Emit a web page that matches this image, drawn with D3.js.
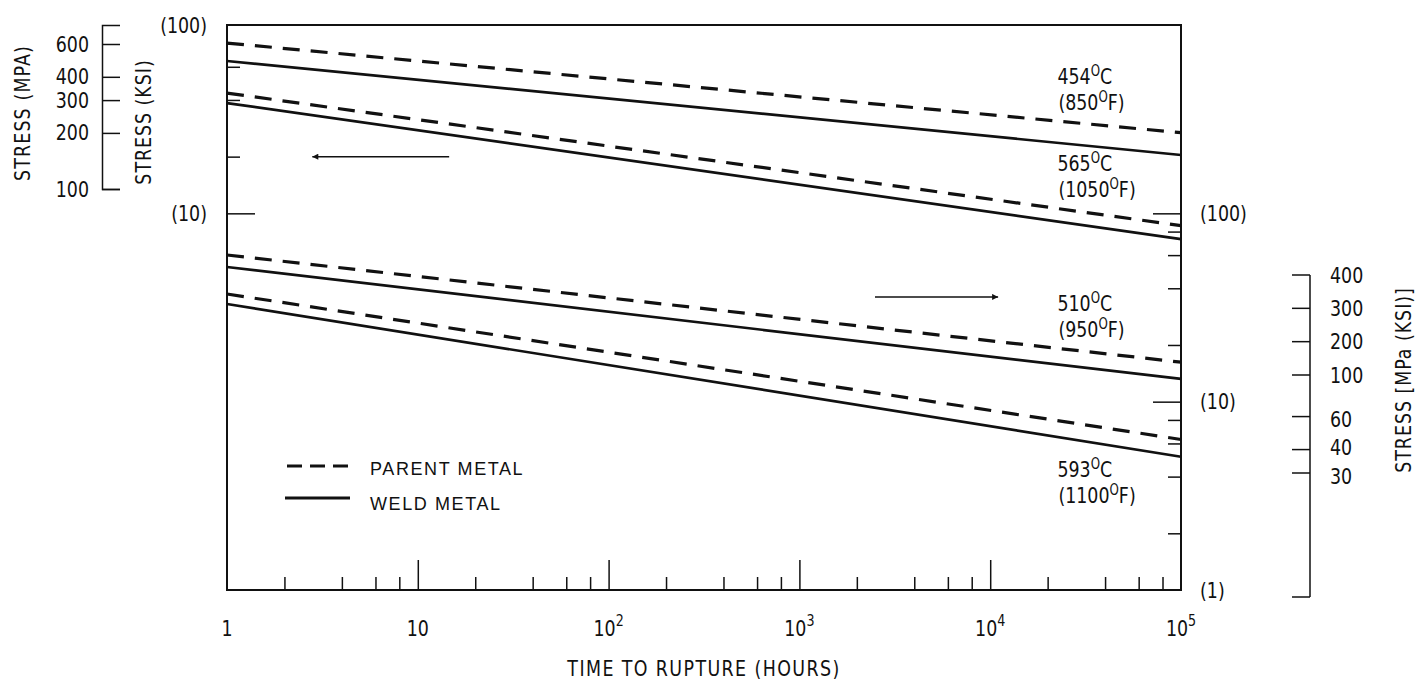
<!DOCTYPE html>
<html lang="en">
<head>
<meta charset="UTF-8">
<title>Time to rupture</title>
<script src="https://d3js.org/d3.v7.min.js"></script>
<style>
  body { margin: 0; background: #fff; }
  text { font-family: "Liberation Sans Narrow", "DejaVu Sans Condensed", sans-serif; fill: #111; font-size: 22px; }
  text.wide { font-family: "Liberation Sans", Arial, sans-serif; font-size: 18px; letter-spacing: 1.6px; }
</style>
</head>
<body>
<svg id="chart" width="1416" height="690"></svg>
<script>
    // curve data: stress (ksi) at 1 h and at 1e5 h
    const hours = [1, 1e5];
    const tempC = ["454", "565", "510", "593"];
    const tempF = ["850", "1050", "950", "1100"];
    const side = ["left", "left", "right", "right"];   // which ksi scale the curve is read on
    const parentStart = [80.2, 43.5, 60.1, 37.3];
    const parentEnd = [26.8, 8.6, 16.2, 6.3];
    const weldStart = [64.4, 38.5, 51.9, 33.0];
    const weldEnd = [20.4, 7.3, 13.2, 5.1];

    // axis ticks
    const xMajor = [10, 100, 1000, 10000];
    const xLabels = [[1, "1", ""], [10, "10", ""], [100, "10", "2"], [1000, "10", "3"], [10000, "10", "4"], [100000, "10", "5"]];
    const ksiMinor = [2, 4, 6, 8, 20, 40, 60, 80];
    const ksiLeftMajor = [10];
    const ksiRightMajor = [10, 100];
    const ksiLeftLabels = [100, 10];
    const ksiRightLabels = [100, 10, 1];
    const mpaLeftTicks = [100, 200, 300, 400, 600];
    const mpaRightTicks = [400, 300, 200, 100, 60, 40, 30];

    const svg = d3.select('#chart');
    const pLeft = 227, pRight = 1181, pTop = 25, pBottom = 590;

    const x = d3.scaleLog().domain([1, 1e5]).range([pLeft, pRight]);
    const yR = d3.scaleLog().domain([1, 1000]).range([pBottom, pTop]);
    const yL = d3.scaleLog().domain([0.1, 100]).range([pBottom, pTop]);
    const yFor = (s) => s === "left" ? yL : yR;

    // frame
    svg.append('rect')
        .attr('x', pLeft).attr('y', pTop)
        .attr('width', pRight - pLeft).attr('height', pBottom - pTop)
        .attr('fill', 'none').attr('stroke', '#111').attr('stroke-width', 2);

    function ticks(g, w) {
        g.select('.domain').remove();
        g.selectAll('line').attr('stroke', '#111').attr('stroke-width', w);
        g.selectAll('text').remove();
    }

    // x ticks (pointing up, inside)
    const xMinor = [1, 10, 100, 1000, 10000].flatMap(d => [2, 4, 6, 8].map(m => d * m));
    svg.append('g').attr('transform', `translate(0,${pBottom})`)
        .call(d3.axisTop(x).tickValues(xMinor).tickSize(13)).call(ticks, 1.5);
    svg.append('g').attr('transform', `translate(0,${pBottom})`)
        .call(d3.axisTop(x).tickValues(xMajor).tickSize(30)).call(ticks, 1.5);

    const xl = svg.append('g').selectAll('text').data(xLabels).join('text')
        .attr('x', d => x(d[0])).attr('y', 636)
        .attr('text-anchor', 'middle');
    xl.append('tspan').text(d => d[1]);
    xl.append('tspan').attr('dy', -10).attr('font-size', 16).text(d => d[2]);

    svg.append('text').attr('x', 704).attr('y', 676)
        .attr('text-anchor', 'middle').attr('letter-spacing', 1.6)
        .text('TIME TO RUPTURE (HOURS)');

    // left ksi ticks
    svg.append('g').attr('transform', `translate(${pLeft},0)`)
        .call(d3.axisRight(yL).tickValues(ksiMinor.filter(v => v > 10)).tickSize(13)).call(ticks, 1.5);
    svg.append('g').attr('transform', `translate(${pLeft},0)`)
        .call(d3.axisRight(yL).tickValues(ksiLeftMajor).tickSize(28)).call(ticks, 1.5);
    svg.append('g').selectAll('text').data(ksiLeftLabels).join('text')
        .attr('x', 207).attr('y', d => yL(d)).attr('dy', '0.35em')
        .attr('text-anchor', 'end').text(d => `(${d})`);

    // right ksi ticks
    svg.append('g').attr('transform', `translate(${pRight},0)`)
        .call(d3.axisLeft(yR).tickValues(ksiMinor).tickSize(13)).call(ticks, 1.5);
    svg.append('g').attr('transform', `translate(${pRight},0)`)
        .call(d3.axisLeft(yR).tickValues(ksiRightMajor).tickSize(28)).call(ticks, 1.5);
    svg.append('g').selectAll('text').data(ksiRightLabels).join('text')
        .attr('x', 1200).attr('y', d => yR(d)).attr('dy', '0.35em')
        .text(d => `(${d})`);

    // left MPa scale
    const mpaL = d3.scaleLog().domain([100, 600]).range([189, 44]);
    mpaL.domain([100, mpaL.invert(25)]).range([189, 25]);
    const gm = svg.append('g').attr('transform', 'translate(102,0)')
        .call(d3.axisRight(mpaL).tickValues(mpaLeftTicks).tickSize(18).tickSizeOuter(18).tickFormat(d3.format('d')));
    gm.select('.domain').attr('stroke', '#111').attr('stroke-width', 1.5);
    gm.selectAll('line').attr('stroke', '#111').attr('stroke-width', 1.5);
    gm.selectAll('text').attr('x', -13).attr('text-anchor', 'end').attr('fill', '#111');
    gm.attr('font-size', null).attr('font-family', null);

    svg.append('text').attr('transform', 'translate(22,113) rotate(-90)')
        .attr('dy', '0.35em').attr('text-anchor', 'middle').attr('letter-spacing', 1.3)
        .text('STRESS (MPA)');
    svg.append('text').attr('transform', 'translate(143,122) rotate(-90)')
        .attr('dy', '0.35em').attr('text-anchor', 'middle').attr('letter-spacing', 1.1)
        .text('STRESS (KSI)');

    // right MPa scale (drawn unevenly in the original: linear above 100, log below)
    const mpaRUp = d3.scaleLinear().domain([400, 100]).range([275, 375]);
    const mpaRLo = d3.scaleLog().domain([100, 30]).range([375, 473]);
    const mpaR = v => v >= 100 ? mpaRUp(v) : mpaRLo(v);
    const mpaRBottom = mpaRLo.invert(597);
    const gr = svg.append('g').attr('stroke', '#111').attr('stroke-width', 1.5);
    gr.append('line').attr('x1', 1310).attr('x2', 1310)
        .attr('y1', mpaR(400)).attr('y2', mpaR(mpaRBottom));
    gr.selectAll('.t').data(mpaRightTicks.concat([mpaRBottom])).join('line')
        .attr('x1', 1292).attr('x2', 1310)
        .attr('y1', d => mpaR(d)).attr('y2', d => mpaR(d));
    svg.append('g').selectAll('text').data(mpaRightTicks).join('text')
        .attr('x', 1330).attr('y', d => mpaR(d) + (d === 30 ? 3 : d === 40 ? -2 : d === 60 ? 3 : 0))
        .attr('dy', '0.35em').text(d => d);
    svg.append('text').attr('transform', 'translate(1403,380) rotate(-90)')
        .attr('dy', '0.35em').attr('text-anchor', 'middle').attr('letter-spacing', 1.1)
        .text('STRESS [MPa (KSI)]');

    // curves
    const line = d3.line();
    const curves = svg.append('g').attr('fill', 'none').attr('stroke', '#111');
    tempC.forEach((t, i) => {
        const y = yFor(side[i]);
        curves.append('path')
            .attr('d', line(hours.map((h, k) => [x(h), y([parentStart[i], parentEnd[i]][k])])))
            .attr('stroke-width', 3.2).attr('stroke-dasharray', '17,11');
        curves.append('path')
            .attr('d', line(hours.map((h, k) => [x(h), y([weldStart[i], weldEnd[i]][k])])))
            .attr('stroke-width', 2.7);
    });

    // curve labels
    const labelHour = 2.25e4;
    const interp = (a, b) => Math.exp(Math.log(a) + (Math.log(b) - Math.log(a)) * Math.log10(labelHour) / 5);
    tempC.forEach((t, i) => {
        const y = yFor(side[i]);
        let b1;
        if (i === 3) b1 = y(interp(weldStart[i], weldEnd[i])) + 40;
        else b1 = y(interp(parentStart[i], parentEnd[i])) - 37;
        const lines = [[t, "C", ""], ["(" + tempF[i], "F", ")"]];
        lines.forEach((l, k) => {
            const tx = svg.append('text').attr('x', x(labelHour) + (k ? 1 : 0)).attr('y', b1 + k * 26);
            tx.append('tspan').text(l[0]);
            tx.append('tspan').attr('dy', -8).attr('font-size', 15).text('O');
            tx.append('tspan').attr('dy', 8).text(l[1] + l[2]);
        });
    });

    // arrows
    const defs = svg.append('defs');
    defs.append('marker').attr('id', 'head').attr('viewBox', '0 0 10 10')
        .attr('refX', 10).attr('refY', 5).attr('markerWidth', 16).attr('markerHeight', 6)
        .attr('markerUnits', 'userSpaceOnUse').attr('orient', 'auto')
        .append('path').attr('d', 'M0,0L10,5L0,10Z').attr('fill', '#111');
    svg.append('line')
        .attr('x1', x(14.6)).attr('x2', x(2.8)).attr('y1', yL(20)).attr('y2', yL(20))
        .attr('stroke', '#111').attr('stroke-width', 1.5).attr('marker-end', 'url(#head)');
    svg.append('line')
        .attr('x1', x(2490)).attr('x2', x(11000)).attr('y1', yR(36)).attr('y2', yR(36))
        .attr('stroke', '#111').attr('stroke-width', 1.5).attr('marker-end', 'url(#head)');

    // legend
    const lg = svg.append('g');
    lg.append('line').attr('x1', 287).attr('x2', 349).attr('y1', 466).attr('y2', 466)
        .attr('stroke', '#111').attr('stroke-width', 3.2).attr('stroke-dasharray', '15,8');
    lg.append('line').attr('x1', 285).attr('x2', 350).attr('y1', 498).attr('y2', 498)
        .attr('stroke', '#111').attr('stroke-width', 3);
    lg.append('text').attr('class', 'wide').attr('x', 370).attr('y', 475).text('PARENT METAL');
    lg.append('text').attr('class', 'wide').attr('x', 370).attr('y', 510).text('WELD METAL');

    // the original lettering is tall and narrow: squeeze the glyphs a little
    svg.selectAll('text:not(.wide)').each(function () {
        const len = this.getComputedTextLength();
        if (len > 0) d3.select(this).attr('textLength', len * 0.88).attr('lengthAdjust', 'spacingAndGlyphs');
    });
</script>
</body>
</html>
